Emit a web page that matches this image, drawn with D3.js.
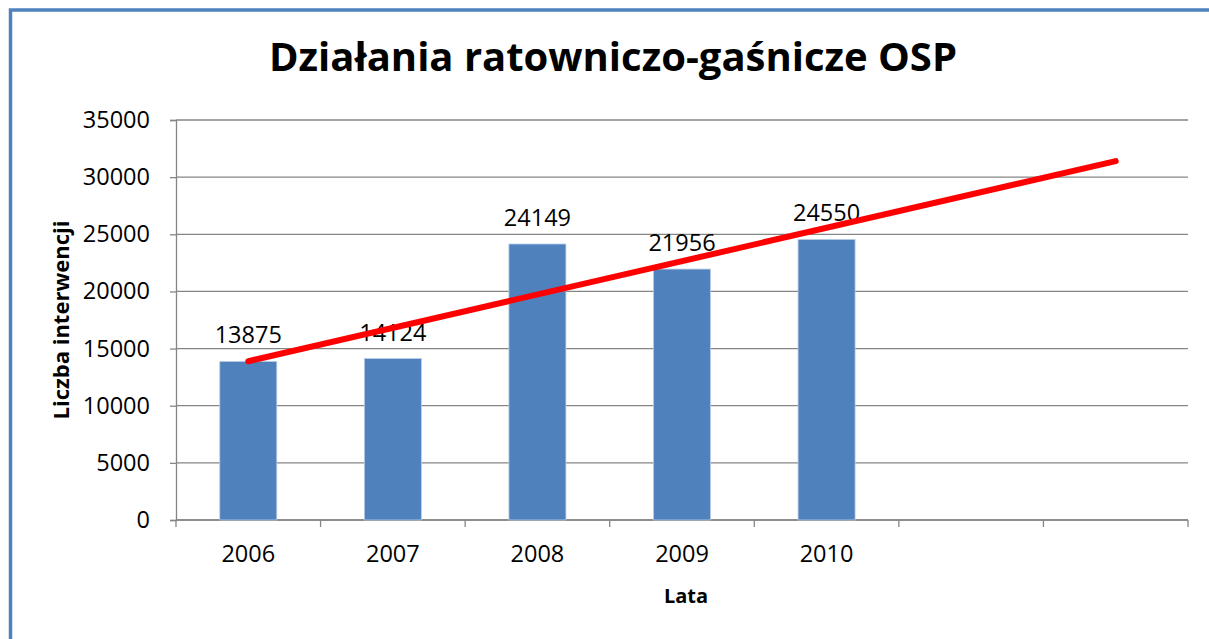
<!DOCTYPE html>
<html>
<head>
<meta charset="utf-8">
<script src="https://cdn.jsdelivr.net/npm/d3@7"></script>
<style>
  body { margin: 0; background: #fff; }
  text { font-family: "Open Sans", "DejaVu Sans", sans-serif; }
</style>
</head>
<body>
<script>
// dane wykresu
const lata = ['2006', '2007', '2008', '2009', '2010', '', ' ']
const interwencje = [13875, 14124, 24149, 21956, 24550]
const yTicks = [0, 5000, 10000, 15000, 20000, 25000, 30000, 35000]
const tytul = 'Działania ratowniczo-gaśnicze OSP'

const W = 1209, H = 639
const plot = { left: 176, right: 1188, top: 120, bottom: 520 }
const numSize = 23.5

const svg = d3.select('body').append('svg')
  .attr('width', W).attr('height', H)

// ramka
svg.append('rect')
  .attr('x', 10.5).attr('y', 10)
  .attr('width', 1240).attr('height', 700)
  .attr('fill', 'none')
  .attr('stroke', '#4f81bd')
  .attr('stroke-width', 3.5)

const x = d3.scaleBand().domain(lata).range([plot.left, plot.right])
const y = d3.scaleLinear().domain([0, 35000]).range([plot.bottom, plot.top])

// siatka
svg.append('g')
  .selectAll('line')
  .data(yTicks)
  .enter().append('line')
  .attr('x1', plot.left).attr('x2', plot.right)
  .attr('y1', d => y(d)).attr('y2', d => y(d))
  .attr('stroke', '#868686').attr('stroke-width', 1.3)

// os y
const yAxis = svg.append('g')
  .attr('transform', 'translate(' + plot.left + ',0)')
  .call(d3.axisLeft(y).tickValues(yTicks).tickSize(6).tickPadding(20).tickFormat(d3.format('d')))
yAxis.select('.domain').attr('stroke', '#868686').attr('stroke-width', 1.3)
yAxis.selectAll('.tick line').attr('stroke', '#868686').attr('stroke-width', 1.3)
yAxis.selectAll('text').attr('font-size', numSize).attr('fill', '#000')
  .attr('font-family', '"Open Sans", sans-serif')

// os x - kreski na granicach kategorii
const granice = lata.map(d => x(d)).concat([plot.right])
svg.append('line')
  .attr('x1', plot.left).attr('x2', plot.right)
  .attr('y1', plot.bottom).attr('y2', plot.bottom)
  .attr('stroke', '#868686').attr('stroke-width', 1.3)
svg.append('g').selectAll('line')
  .data(granice)
  .enter().append('line')
  .attr('x1', d => d).attr('x2', d => d)
  .attr('y1', plot.bottom).attr('y2', plot.bottom + 7)
  .attr('stroke', '#868686').attr('stroke-width', 1.3)
svg.append('g').selectAll('text')
  .data(lata)
  .enter().append('text')
  .attr('x', d => x(d) + x.bandwidth() / 2)
  .attr('y', 562)
  .attr('text-anchor', 'middle')
  .attr('font-size', numSize)
  .text(d => d.trim())

// slupki
const barW = 57
svg.append('g').selectAll('rect')
  .data(interwencje)
  .enter().append('rect')
  .attr('x', (d, i) => x(lata[i]) + x.bandwidth() / 2 - barW / 2)
  .attr('y', d => y(d))
  .attr('width', barW)
  .attr('height', d => y(0) - y(d))
  .attr('fill', '#4f81bd')
  .attr('stroke', '#b9cde5').attr('stroke-width', 0.8)

// etykiety danych
svg.append('g').selectAll('text')
  .data(interwencje)
  .enter().append('text')
  .attr('x', (d, i) => x(lata[i]) + x.bandwidth() / 2)
  .attr('y', d => y(d) - 18)
  .attr('text-anchor', 'middle')
  .attr('font-size', numSize)
  .text(d => d)

// linia trendu (regresja liniowa, prognoza 2 okresy do przodu)
const n = interwencje.length
const xs = interwencje.map((d, i) => i + 1)
const mx = d3.mean(xs), my = d3.mean(interwencje)
const slope = d3.sum(xs, (v, i) => (v - mx) * (interwencje[i] - my)) / d3.sum(xs, v => (v - mx) * (v - mx))
const trend = t => my + slope * (t - mx)
const xPos = t => x(lata[t - 1]) + x.bandwidth() / 2
svg.append('line')
  .attr('x1', xPos(1)).attr('y1', y(trend(1)))
  .attr('x2', xPos(n + 2)).attr('y2', y(trend(n + 2)))
  .attr('stroke', '#ff0000')
  .attr('stroke-width', 6)
  .attr('stroke-linecap', 'round')

// tytul
svg.append('text')
  .attr('x', 613).attr('y', 71)
  .attr('text-anchor', 'middle')
  .attr('font-size', 40)
  .attr('font-weight', 'bold')
  .text(tytul)

// tytuly osi
svg.append('text')
  .attr('transform', 'translate(69,320) rotate(-90)')
  .attr('text-anchor', 'middle')
  .attr('font-size', 22)
  .attr('font-weight', 'bold')
  .text('Liczba interwencji')

svg.append('text')
  .attr('x', 686).attr('y', 603)
  .attr('text-anchor', 'middle')
  .attr('font-size', 20)
  .attr('font-weight', 'bold')
  .text('Lata')
</script>
</body>
</html>
